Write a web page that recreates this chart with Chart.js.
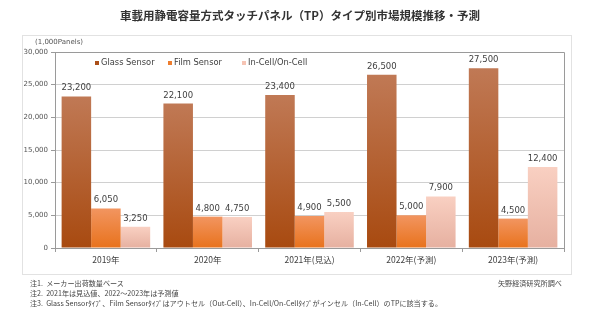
<!DOCTYPE html>
<html>
<head>
<meta charset="utf-8">
<script src="https://cdn.jsdelivr.net/npm/chart.js@4"></script>
<style>
  body { margin: 0; background: #fff; font-family: "Noto Sans CJK JP", "Noto Sans", sans-serif; }
  #wrap { position: relative; width: 600px; height: 323px; }
  #c { position: absolute; left: 0; top: 0; }
  .txt { position: absolute; white-space: nowrap; color: #333; line-height: 1; }
  #title { left: 0; width: 600px; top: 10px; text-align: center; font-size: 11.5px; font-weight: bold; }
  .note { left: 30px; font-size: 7.1px; color: #444; }
  #src { left: 498px; top: 280px; font-size: 7.1px; color: #444; }
</style>
</head>
<body>
<div id="wrap">
  <canvas id="c" width="600" height="323"></canvas>
  <div id="title" class="txt">車載用静電容量方式タッチパネル（TP）タイプ別市場規模推移・予測</div>
  <div class="txt note" style="top:280px">注1.&nbsp; メーカー出荷数量ベース</div>
  <div class="txt note" style="top:290px">注2.&nbsp; 2021年は見込値、2022～2023年は予測値</div>
  <div class="txt note" style="top:300px">注3.&nbsp; Glass Sensorﾀｲﾌﾟ、Film Sensorﾀｲﾌﾟはアウトセル（Out-Cell）、In-Cell/On-Cellﾀｲﾌﾟがインセル（In-Cell）のTPに該当する。</div>
  <div id="src" class="txt">矢野経済研究所調べ</div>
</div>
<script>
const years = ['2019年', '2020年', '2021年(見込)', '2022年(予測)', '2023年(予測)'];
const glassSensor = [23200, 22100, 23400, 26500, 27500];
const filmSensor  = [6050, 4800, 4900, 5000, 4500];
const inCell      = [3250, 4750, 5500, 7900, 12400];
const yTicks = [0, 5000, 10000, 15000, 20000, 25000, 30000];

// top -> bottom gradient colours per series
const shades = {
  glass: ['#c07955', '#a84a10'],
  film:  ['#f29560', '#e8721c'],
  cell:  ['#f9d0c2', '#e6b0a0'],
};

function grad(key) {
  return (c) => {
    const area = c.chart.chartArea;
    if (!area) return shades[key][1];
    const y = c.chart.scales.y;
    const top = y.getPixelForValue(c.raw ?? 0);
    const g = c.chart.ctx.createLinearGradient(0, top, 0, area.bottom);
    g.addColorStop(0, shades[key][0]);
    g.addColorStop(1, shades[key][1]);
    return g;
  };
}

const fmt = (v) => v.toLocaleString('en-US');

// outer panel, plot frame, legend and value labels
const decor = {
  id: 'decor',
  beforeDraw(chart) {
    const ctx = chart.ctx;
    ctx.save();
    ctx.strokeStyle = '#e2e2e2';
    ctx.lineWidth = 1;
    ctx.strokeRect(22.5, 35.5, 549, 239);
    ctx.font = '7px "DejaVu Sans", sans-serif';
    ctx.fillStyle = '#555';
    ctx.textAlign = 'left';
    ctx.textBaseline = 'middle';
    ctx.fillText('(1,000Panels)', 35, 42);
    ctx.restore();
  },
  afterDatasetsDraw(chart) {
    const ctx = chart.ctx;
    const a = chart.chartArea;
    ctx.save();
    ctx.strokeStyle = '#9a9a9a';
    ctx.lineWidth = 1;
    ctx.beginPath();
    ctx.moveTo(Math.round(a.left) + 0.5, Math.round(a.top) + 0.5);
    ctx.lineTo(Math.round(a.right) + 0.5, Math.round(a.top) + 0.5);
    ctx.lineTo(Math.round(a.right) + 0.5, Math.round(a.bottom) + 0.5);
    ctx.stroke();

    // value labels
    ctx.font = '8.5px "DejaVu Sans", sans-serif';
    ctx.fillStyle = '#404040';
    ctx.textAlign = 'center';
    ctx.textBaseline = 'bottom';
    chart.data.datasets.forEach((ds, i) => {
      chart.getDatasetMeta(i).data.forEach((bar, j) => {
        ctx.fillText(fmt(ds.data[j]), bar.x, bar.y - 4);
      });
    });

    // legend inside the plot
    const items = [
      ['Glass Sensor', '#ab4f18', 95],
      ['Film Sensor', '#ee7d2e', 168],
      ['In-Cell/On-Cell', '#f6c4b4', 242],
    ];
    ctx.font = '8.3px "DejaVu Sans", sans-serif';
    ctx.textAlign = 'left';
    ctx.textBaseline = 'middle';
    items.forEach(([label, col, x]) => {
      ctx.fillStyle = col;
      ctx.fillRect(x, 61, 4, 4);
      ctx.fillStyle = '#404040';
      ctx.fillText(label, x + 6, 63);
    });
    ctx.restore();
  },
};

new Chart(document.getElementById('c'), {
  type: 'bar',
  data: {
    labels: years,
    datasets: [
      { label: 'Glass Sensor', data: glassSensor, backgroundColor: grad('glass') },
      { label: 'Film Sensor', data: filmSensor, backgroundColor: grad('film') },
      { label: 'In-Cell/On-Cell', data: inCell, backgroundColor: grad('cell') },
    ],
  },
  options: {
    responsive: false,
    animation: false,
    datasets: { bar: { categoryPercentage: 0.87, barPercentage: 1.0, borderWidth: 0 } },
    layout: { padding: { top: 52, right: 36, bottom: 45, left: 0 } },
    plugins: { legend: { display: false }, tooltip: { enabled: false } },
    scales: {
      x: {
        afterFit: (s) => { s.height = 30; },
        grid: { drawOnChartArea: false, tickLength: 4, color: '#9a9a9a', offset: true },
        border: { color: '#9a9a9a' },
        ticks: { color: '#404040', font: { size: 8.5, family: '"Noto Sans CJK JP", sans-serif' }, padding: 3, maxRotation: 0 },
      },
      y: {
        min: 0, max: 30000,
        afterFit: (s) => { s.width = 55; },
        afterBuildTicks: (s) => { s.ticks = yTicks.map(v => ({ value: v })); },
        grid: { color: '#d0d0d0', tickLength: 4, tickColor: '#9a9a9a' },
        border: { color: '#9a9a9a' },
        ticks: { color: '#555', font: { size: 7, family: '"DejaVu Sans", sans-serif' }, padding: 3, callback: (v) => fmt(v) },
      },
    },
  },
  plugins: [decor],
});
</script>
</body>
</html>
